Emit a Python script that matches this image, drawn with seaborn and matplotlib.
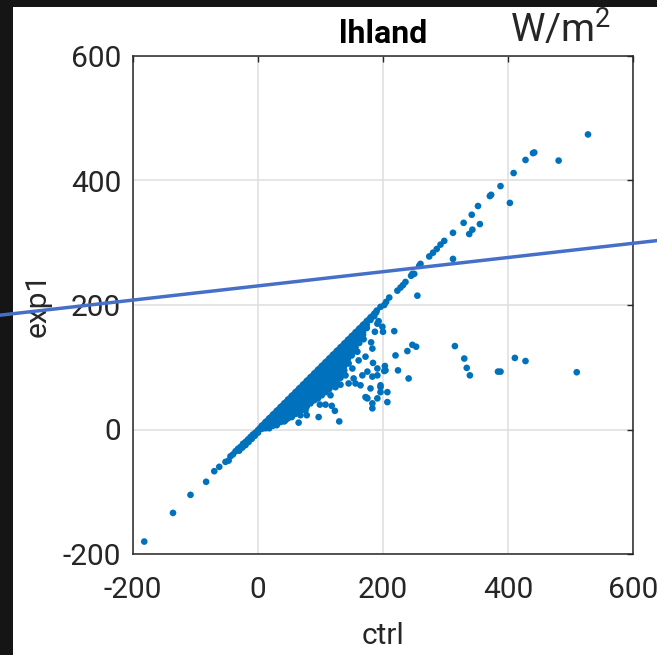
import matplotlib
matplotlib.use("Agg")
import matplotlib.pyplot as plt
from matplotlib.patches import Rectangle
import seaborn as sns
import pandas as pd

# ---------------- data ----------------
# sparse tail along the diagonal (negative values)
tail_ctrl = [-182, -136, -108, -83, -70, -62, -52, -47, -30, -25, -20, -15, -10, -5, 0]
tail_exp1 = [-180, -134, -105, -84, -67, -60, -52, -50, -34, -29, -25, -20, -15, -10, -5]

# dense points on the 1:1 diagonal
diag_ctrl = [-44, -40, -36, -32, -28, -24, -20, -16, -12, -8, -4, 0, 3, 9, 15, 21, 27,
             33, 39, 45, 51, 57, 63, 69, 75, 81, 87, 93, 99, 105, 111, 117, 123, 129,
             135, 141, 147, 153, 159, 165, 171, 177, 183, 189]
diag_exp1 = [-43, -40, -35, -31, -28, -23, -20, -16, -12, -8, -5, -1, 2, 8, 14, 20, 26,
             32, 38, 44, 50, 56, 62, 68, 74, 80, 86, 92, 98, 104, 110, 116, 122, 128,
             134, 140, 146, 152, 158, 164, 170, 176, 182, 188]

# dense wedge below the diagonal: ctrl value -> exp1 values
wedge = {
    6: [6, 1], 12: [12, 7, 2], 18: [18, 12, 7, 2], 24: [24, 18, 12, 6],
    30: [30, 24, 18, 12, 7], 36: [36, 30, 24, 18, 12], 42: [42, 36, 30, 24, 18, 13],
    48: [48, 42, 36, 30, 24, 18], 54: [54, 48, 42, 36, 30, 24, 20],
    60: [60, 54, 48, 42, 36, 30, 25], 66: [66, 60, 54, 48, 42, 36, 30],
    72: [72, 66, 60, 54, 48, 42, 36, 32], 78: [78, 72, 66, 60, 54, 48, 42, 37],
    84: [84, 78, 72, 66, 60, 54, 48, 42], 90: [90, 84, 78, 72, 66, 60, 54, 47],
    96: [96, 90, 84, 78, 72, 66, 60, 54, 50], 102: [102, 96, 90, 84, 78, 72, 66, 60, 55],
    108: [108, 102, 96, 90, 84, 78, 72, 66, 60], 114: [114, 108, 102, 96, 90, 84, 78, 72, 65],
    120: [120, 114, 108, 102, 96, 90, 84, 78, 70], 126: [126, 120, 114, 108, 102, 96, 90, 84, 76],
    132: [132, 126, 120, 114, 108, 102, 96, 90, 83], 138: [138, 132, 126, 120, 114, 108, 102, 95],
    144: [144, 138, 132, 126, 120, 114, 107], 150: [150, 144, 138, 132, 126, 119],
    156: [156, 150, 144, 138, 132, 126], 162: [162, 156, 150, 144, 139],
    168: [168, 162, 156, 152], 174: [174, 168, 163], 180: [180, 176], 186: [186, 182],
}

# scattered points below the wedge
spread_ctrl = [191, 199, 187, 200, 218, 156, 169, 181, 183, 159, 161, 172, 220, 239, 184,
               191, 203, 204, 224, 241, 145, 151, 140, 153, 156, 167, 175, 183, 191, 145,
               132, 124, 116, 164, 180, 196, 196, 191, 207, 172, 175, 183, 183, 207, 99,
               108, 118, 123, 85, 76, 68, 78, 97, 65, 130, 52, 44, 253, 247, 193, 202,
               174, 196, 315, 330, 334, 339, 384, 388, 411, 428, 510]
spread_exp1 = [170, 165, 157, 157, 158, 141, 145, 140, 130, 125, 111, 117, 119, 126, 107,
               98, 102, 95, 95, 82, 106, 98, 87, 82, 74, 87, 93, 85, 87, 74,
               72, 68, 55, 71, 66, 68, 60, 50, 60, 52, 50, 42, 34, 44, 40,
               40, 38, 30, 45, 31, 23, 23, 20, 11, 13, 26, 15, 133, 136, 174, 94,
               51, 71, 134, 114, 99, 87, 93, 93, 115, 110, 92]

# upper part of the diagonal (sparser)
upper_ctrl = [190, 196, 202, 205, 210, 223, 228, 232, 236, 245, 247, 250, 258, 260, 255,
              274, 280, 286, 292, 298, 312, 312, 329, 338, 342, 343, 352, 355, 371, 373,
              388, 403, 409, 428, 440, 442, 481, 528]
upper_exp1 = [191, 197, 200, 205, 212, 223, 228, 232, 237, 247, 250, 250, 263, 266, 215,
              278, 284, 290, 297, 303, 316, 274, 332, 314, 345, 321, 359, 330, 375, 377,
              391, 364, 412, 433, 444, 445, 432, 474]

# fitted line shown on the chart
fit_intercept = 230.7
fit_slope = 0.114
fit_ctrl = [-417, 639]

x_ticks = [-200, 0, 200, 400, 600]
y_ticks = [-200, 0, 200, 400, 600]

# ---------------- build table ----------------
wedge_ctrl = [k for k, vals in wedge.items() for _ in vals]
wedge_exp1 = [v for vals in wedge.values() for v in vals]
df = pd.DataFrame({
    "ctrl": tail_ctrl + diag_ctrl + wedge_ctrl + spread_ctrl + upper_ctrl,
    "exp1": tail_exp1 + diag_exp1 + wedge_exp1 + spread_exp1 + upper_exp1,
})
fit_exp1 = [fit_intercept + fit_slope * x for x in fit_ctrl]

# ---------------- style ----------------
sns.set_theme(style="white")
plt.rcParams["font.family"] = ["Roboto", "DejaVu Sans"]
plt.rcParams["mathtext.fontset"] = "custom"
plt.rcParams["mathtext.rm"] = "Roboto"
plt.rcParams["mathtext.it"] = "Roboto:italic"
plt.rcParams["mathtext.bf"] = "Roboto:bold"
TXT = "#262626"

W, H = 657, 655
fig = plt.figure(figsize=(W / 100, H / 100), dpi=100, facecolor="#151515")
fig.patches.append(Rectangle((13 / W, 0), 1 - 13 / W, 1 - 7 / H,
                             transform=fig.transFigure, facecolor="white",
                             edgecolor="none", zorder=-5))

ax = fig.add_axes([133 / W, 1 - 554 / H, (633 - 133) / W, (554 - 56) / H])
ax.set_facecolor("white")

sns.scatterplot(data=df, x="ctrl", y="exp1", ax=ax, color="#0072BD", s=23,
                linewidth=0, edgecolor="none", zorder=3)
ax.plot(fit_ctrl, fit_exp1, color="#4670C8", lw=2.5, clip_on=False, zorder=4)

ax.set_xlim(-200, 600)
ax.set_ylim(-200, 600)
ax.set_xticks(x_ticks)
ax.set_yticks(y_ticks)
ax.set_xticklabels([str(t) for t in x_ticks])
ax.set_yticklabels([str(t) for t in y_ticks])
ax.grid(True, color="#dedede", lw=1.1)
ax.set_axisbelow(True)
for sp in ax.spines.values():
    sp.set_visible(True)
    sp.set_color(TXT)
    sp.set_linewidth(1.1)
ax.tick_params(axis="both", direction="in", length=4, width=1.0, colors=TXT,
               top=True, right=True, labelsize=21.5, labelcolor=TXT)
ax.tick_params(axis="x", pad=16)
ax.tick_params(axis="y", pad=8.5)

ax.set_xlabel("ctrl", fontsize=21.5, color=TXT, labelpad=13)
ax.set_ylabel("exp1", fontsize=21.5, color=TXT, labelpad=8)

fig.text(383 / W, 1 - 43 / H, "lhland", ha="center", va="baseline",
         fontsize=23, fontweight="bold", color="black")
fig.text(510 / W, 1 - 43 / H, r"W/m$^{\mathrm{2}}$", ha="left", va="baseline",
         fontsize=28, color=TXT)

fig.savefig("out.png", dpi=100, facecolor=fig.get_facecolor())
